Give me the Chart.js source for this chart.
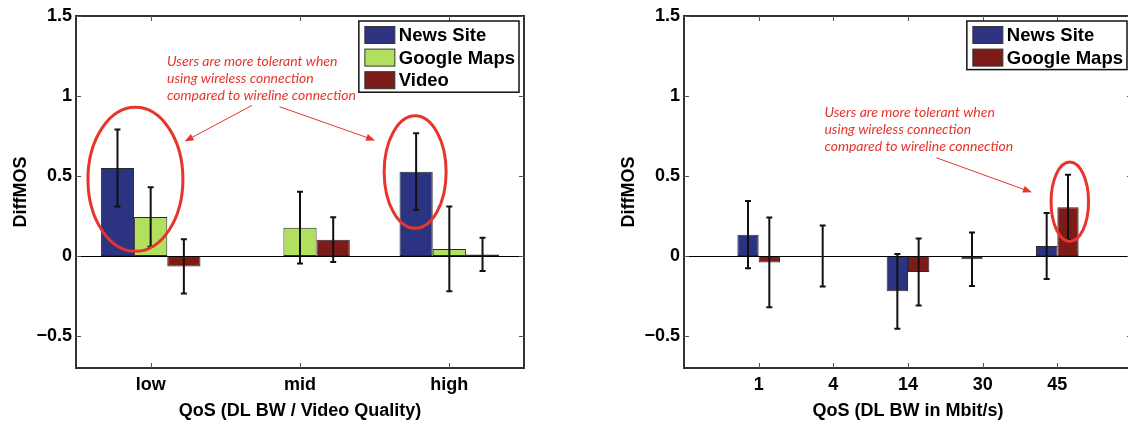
<!DOCTYPE html>
<html>
<head>
<meta charset="utf-8">
<script src="https://cdn.jsdelivr.net/npm/chart.js@4/dist/chart.umd.min.js"></script>
<style>
    html, body { margin: 0; padding: 0; background: #fff; overflow: hidden; width: 1128px; height: 423px; }
    .box { position: absolute; top: 0; width: 564px; height: 423px; }
    #left-box { left: 0; }
    #right-box { left: 608px; }
</style>
</head>
<body>
<div class="box" id="left-box"><canvas id="left-chart"></canvas></div>
<div class="box" id="right-box"><canvas id="right-chart"></canvas></div>
<script>
// ============================================
// DiffMOS bar charts (MATLAB look)
// - left: QoS by DL BW / video quality
// - right: QoS by DL BW in Mbit/s
// ============================================

const leftCategories = ['low', 'mid', 'high'];
const leftNews       = [0.55, 0, 0.527];
const leftNewsErr    = [0.24, null, 0.24];
const leftMaps       = [0.244, 0.177, 0.044];
const leftMapsErr    = [0.186, 0.224, 0.265];
const leftVideo      = [-0.065, 0.102, 0.01];
const leftVideoErr   = [0.17, 0.14, 0.104];

const rightCategories = ['1', '4', '14', '30', '45'];
const rightNews       = [0.133, 0, -0.221, -0.02, 0.0625];
const rightNewsErr    = [0.21, 0.19, 0.233, 0.167, 0.206];
const rightMaps       = [-0.04, 0, -0.1, 0, 0.304];
const rightMapsErr    = [0.28, null, 0.21, null, 0.204];

const yTicks = [-0.5, 0, 0.5, 1, 1.5];

const noteLines = ['Users are more tolerant when', 'using wireless connection', 'compared to wireline connection'];

// annotation anchors, in axis units
const leftNotes = {
    text: [1.11, 1.216],
    arrows: [[1.678, 0.941, 1.227, 0.716], [1.863, 0.933, 2.503, 0.7225]],
    ellipses: [[0.898, 0.479, 0.318, 0.45], [2.771, 0.525, 0.2075, 0.352]]
};
const rightNotes = {
    text: [1.881, 0.8975],
    arrows: [[3.38, 0.614, 4.66, 0.398]],
    ellipses: [[5.167, 0.339, 0.251, 0.248]]
};

const NAVY = '#2c3482', LIME = '#b3df5f', MAROON = '#7c1b18';
const RED = '#e6352b';
const FONT = 'Liberation Sans, Arial, Helvetica, sans-serif';

function toPoints(cats, vals) { return vals.map((v, i) => ({ x: i + 1, y: v })); }

function arrow(ctx, x1, y1, x2, y2) {
    const ang = Math.atan2(y2 - y1, x2 - x1), len = 9, w = 3.5;
    ctx.beginPath(); ctx.moveTo(x1, y1); ctx.lineTo(x2 - Math.cos(ang) * len * 0.6, y2 - Math.sin(ang) * len * 0.6); ctx.stroke();
    ctx.beginPath();
    ctx.moveTo(x2, y2);
    ctx.lineTo(x2 - Math.cos(ang) * len + Math.sin(ang) * w, y2 - Math.sin(ang) * len - Math.cos(ang) * w);
    ctx.lineTo(x2 - Math.cos(ang) * len - Math.sin(ang) * w, y2 - Math.sin(ang) * len + Math.cos(ang) * w);
    ctx.closePath(); ctx.fill();
}

const matlabLook = {
    id: 'matlabLook',
    afterDatasetsDraw(chart, args, opts) {
        const { ctx, chartArea: a, scales: { x, y } } = chart;
        ctx.save();

        // zero line
        const y0 = Math.round(y.getPixelForValue(0)) + 0.5;
        ctx.strokeStyle = '#000'; ctx.lineWidth = 1;
        ctx.beginPath(); ctx.moveTo(a.left, y0); ctx.lineTo(a.right, y0); ctx.stroke();

        // error bars
        ctx.strokeStyle = '#111'; ctx.lineWidth = 2;
        chart.data.datasets.forEach((ds, i) => {
            chart.getDatasetMeta(i).data.forEach((bar, j) => {
                const e = ds.errors[j];
                if (e == null) return;
                const v = ds.data[j].y;
                const t = y.getPixelForValue(v + e), b = y.getPixelForValue(v - e);
                ctx.beginPath();
                ctx.moveTo(bar.x, t); ctx.lineTo(bar.x, b);
                ctx.moveTo(bar.x - 3, t); ctx.lineTo(bar.x + 3, t);
                ctx.moveTo(bar.x - 3, b); ctx.lineTo(bar.x + 3, b);
                ctx.stroke();
            });
        });

        // axes box and inward ticks
        ctx.strokeStyle = '#333'; ctx.lineWidth = 2;
        ctx.strokeRect(a.left, a.top, a.right - a.left, a.bottom - a.top);
        ctx.lineWidth = 1; ctx.strokeStyle = '#555';
        ctx.beginPath();
        y.ticks.forEach(t => {
            const py = Math.round(y.getPixelForValue(t.value)) + 0.5;
            ctx.moveTo(a.left, py); ctx.lineTo(a.left + 5, py);
            ctx.moveTo(a.right, py); ctx.lineTo(a.right - 5, py);
        });
        x.ticks.forEach(t => {
            const px = Math.round(x.getPixelForValue(t.value)) + 0.5;
            ctx.moveTo(px, a.top); ctx.lineTo(px, a.top + 5);
            ctx.moveTo(px, a.bottom); ctx.lineTo(px, a.bottom - 5);
        });
        ctx.stroke();

        // red notes
        const n = opts.notes;
        ctx.strokeStyle = RED; ctx.fillStyle = RED;
        ctx.lineWidth = 3;
        n.ellipses.forEach(([cx, cy, rx, ry]) => {
            const px = x.getPixelForValue(cx), py = y.getPixelForValue(cy);
            const prx = Math.abs(x.getPixelForValue(cx + rx) - px);
            const pry = Math.abs(y.getPixelForValue(cy + ry) - py);
            ctx.beginPath(); ctx.ellipse(px, py, prx, pry, 0, 0, Math.PI * 2); ctx.stroke();
        });
        ctx.lineWidth = 1;
        n.arrows.forEach(([x1, y1, x2, y2]) => {
            arrow(ctx, x.getPixelForValue(x1), y.getPixelForValue(y1), x.getPixelForValue(x2), y.getPixelForValue(y2));
        });
        ctx.font = 'italic 14px Lato, sans-serif';
        ctx.textBaseline = 'middle'; ctx.textAlign = 'left';
        const tx = x.getPixelForValue(n.text[0]), ty = y.getPixelForValue(n.text[1]);
        noteLines.forEach((line, k) => ctx.fillText(line, tx, ty + k * 17));

        // legend box, top-right inside the axes
        ctx.font = 'bold 18.5px ' + FONT;
        const sets = chart.data.datasets;
        const tw = Math.max(...sets.map(d => ctx.measureText(d.label).width));
        const bw = 40 + tw + 4, bh = 14 + (sets.length - 1) * 22.6 + 12;
        const bx = a.right - 5 - bw, by = a.top + 5;
        ctx.fillStyle = '#fff';
        ctx.fillRect(bx, by, bw, bh);
        ctx.strokeStyle = '#111'; ctx.lineWidth = 1.5;
        ctx.strokeRect(bx, by, bw, bh);
        sets.forEach((d, k) => {
            const cy = by + 14 + k * 22.6;
            ctx.fillStyle = d.backgroundColor;
            ctx.fillRect(bx + 6, cy - 8.5, 30, 17);
            ctx.strokeStyle = '#333'; ctx.lineWidth = 1;
            ctx.strokeRect(bx + 6, cy - 8.5, 30, 17);
            ctx.fillStyle = '#000';
            ctx.fillText(d.label, bx + 40, cy + 1);
        });

        ctx.restore();
    }
};

function makeChart(id, categories, datasets, xMin, xMax, groupWidth, notes, xTitle) {
    return new Chart(document.getElementById(id), {
        type: 'bar',
        data: {
            datasets: datasets.map(d => ({
                label: d.label,
                data: toPoints(categories, d.values),
                errors: d.errors,
                backgroundColor: d.color,
                borderColor: '#2a2a2a',
                borderWidth: 1,
                borderSkipped: false,
                barPercentage: 1,
                categoryPercentage: groupWidth
            }))
        },
        options: {
            responsive: true,
            maintainAspectRatio: false,
            animation: false,
            events: [],
            layout: { padding: { top: 16, right: 40, bottom: 0, left: 0 } },
            plugins: { legend: { display: false }, tooltip: { enabled: false }, matlabLook: { notes } },
            scales: {
                x: {
                    type: 'linear', min: xMin, max: xMax, offset: false,
                    grid: { display: false, drawTicks: false },
                    border: { display: false },
                    afterBuildTicks: s => { s.ticks = categories.map((c, i) => ({ value: i + 1 })); },
                    afterFit: s => { s.height = 55; },
                    ticks: {
                        autoSkip: false, maxRotation: 0, padding: 6, color: '#000',
                        font: { family: FONT, size: 18, weight: 'bold' },
                        callback: v => categories[Math.round(v) - 1] ?? ''
                    },
                    title: { display: true, text: xTitle, color: '#000', padding: { top: 0, bottom: 1 },
                             font: { family: FONT, size: 18, weight: 'bold' } }
                },
                y: {
                    min: -0.7, max: 1.5,
                    grid: { display: false, drawTicks: false },
                    border: { display: false },
                    afterBuildTicks: s => { s.ticks = yTicks.map(v => ({ value: v })); },
                    afterFit: s => { s.width = 76; },
                    ticks: {
                        padding: 4, color: '#000',
                        font: { family: FONT, size: 18, weight: 'bold' },
                        callback: v => v < 0 ? '\u2212' + Math.abs(v) : String(v)
                    },
                    title: { display: true, text: 'DiffMOS', color: '#000', padding: { top: 10, bottom: 0 },
                             font: { family: FONT, size: 18, weight: 'bold' } }
                }
            }
        },
        plugins: [matlabLook]
    });
}

makeChart('left-chart', leftCategories, [
    { label: 'News Site',   values: leftNews,  errors: leftNewsErr,  color: NAVY },
    { label: 'Google Maps', values: leftMaps,  errors: leftMapsErr,  color: LIME },
    { label: 'Video',       values: leftVideo, errors: leftVideoErr, color: MAROON }
], 0.5, 3.5, 0.667, leftNotes, 'QoS (DL BW / Video Quality)');

makeChart('right-chart', rightCategories, [
    { label: 'News Site',   values: rightNews, errors: rightNewsErr, color: NAVY },
    { label: 'Google Maps', values: rightMaps, errors: rightMapsErr, color: MAROON }
], 0, 6, 0.571, rightNotes, 'QoS (DL BW in Mbit/s)');
</script>
</body>
</html>
